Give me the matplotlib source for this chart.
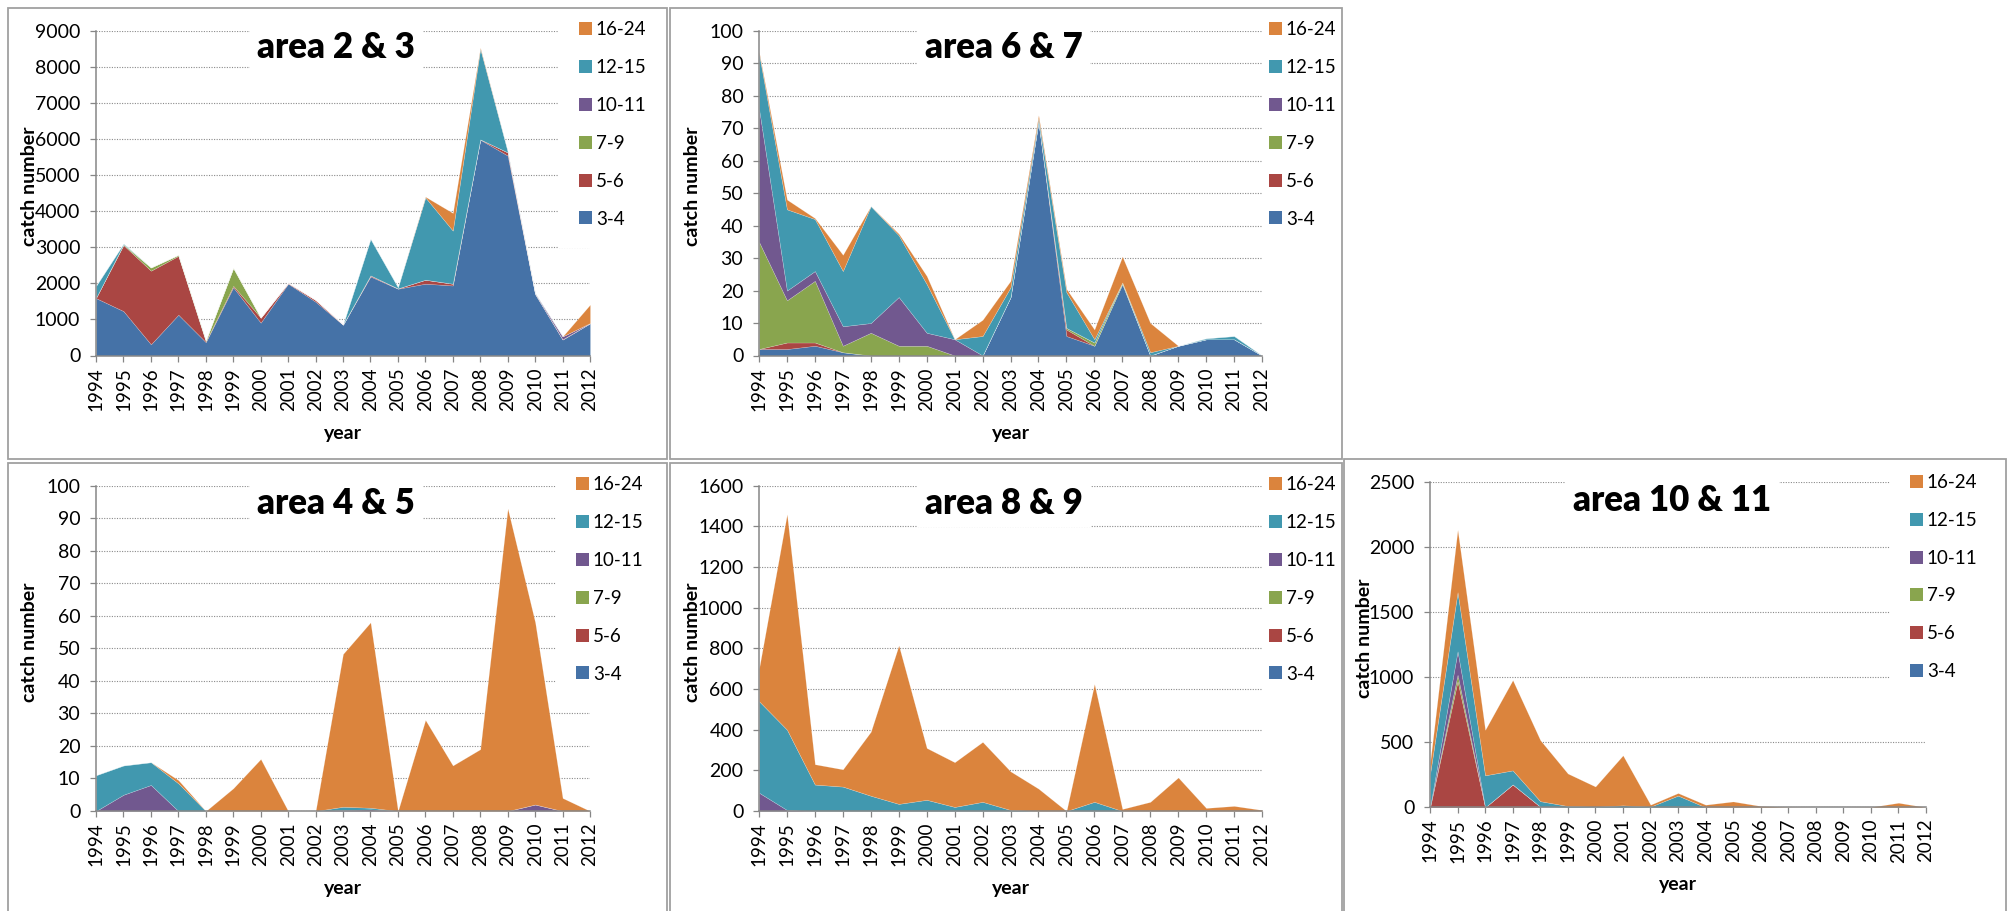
import numpy as np
import matplotlib
matplotlib.use('Agg')
import matplotlib.pyplot as plt
from matplotlib.patches import Rectangle

W, H = 2013, 911
DPI = 100

plt.rcParams['font.family'] = ['Lato', 'DejaVu Sans']

YEARS = [str(y) for y in range(1994, 2013)]
AGE_GROUPS = ['3-4', '5-6', '7-9', '10-11', '12-15', '16-24']
COLORS = ['#4572A7', '#AA4643', '#89A54E', '#71588F', '#4198AF', '#DB843D']

# catch numbers per age group, 1994..2012
# area 2 & 3
a23_g34 = [1590, 1230, 310, 1130, 370, 1890, 910, 1990, 1490, 850, 2190, 1850, 1990, 1940, 5980, 5540, 1700, 440, 890]
a23_g56 = [10, 1830, 2040, 1630, 20, 40, 140, 20, 50, 10, 30, 10, 110, 50, 10, 90, 10, 10, 5]
a23_g79 = [0, 20, 90, 30, 30, 500, 0, 0, 0, 0, 0, 0, 0, 0, 0, 0, 0, 0, 0]
a23_g1011 = [0, 0, 0, 0, 0, 0, 0, 0, 0, 0, 0, 0, 0, 0, 0, 0, 10, 80, 5]
a23_g1215 = [330, 20, 0, 0, 0, 0, 0, 0, 0, 0, 1010, 30, 2280, 1470, 2510, 20, 10, 0, 0]
a23_g1624 = [0, 0, 0, 0, 0, 0, 0, 0, 0, 0, 0, 0, 20, 490, 30, 0, 0, 0, 510]

# area 6 & 7
a67_g34 = [2, 2, 3, 1, 0, 0, 0, 0, 0, 18, 72, 6, 3, 22, 0, 3, 5, 5, 0]
a67_g56 = [0, 2, 1, 0, 0, 0, 0, 0, 0, 0, 0, 2, 0, 0, 0, 0, 0, 0, 0]
a67_g79 = [33, 13, 19, 2, 7, 3, 3, 0, 0, 0, 0, 0.5, 1, 0.5, 0, 0, 0, 0, 0]
a67_g1011 = [41, 3, 3, 6, 3, 15, 4, 5, 0, 0, 0, 0, 0, 0, 0, 0, 0, 0, 0]
a67_g1215 = [17, 25, 16, 17, 36, 19, 15, 0, 6, 3, 1, 11, 1, 0, 1, 0, 0.3, 1, 0]
a67_g1624 = [0.5, 3, 0.3, 5, 0, 0.5, 2.5, 0, 5, 2, 1, 1, 3, 8, 9, 0, 0, 0, 0]

# area 4 & 5
a45_g34 = [0] * 19
a45_g56 = [0] * 19
a45_g79 = [0] * 19
a45_g1011 = [0, 5, 8, 0, 0, 0, 0, 0, 0, 0.3, 0.5, 0, 0, 0, 0, 0, 2, 0, 0]
a45_g1215 = [11, 9, 7, 8.5, 0, 0, 0, 0, 0, 1, 0.5, 0, 0, 0, 0, 0, 0, 0, 0]
a45_g1624 = [0, 0, 0, 1, 0, 7, 16, 0, 0, 47, 57, 0, 28, 14, 19, 93, 56, 4, 0]

# area 8 & 9
a89_g34 = [0] * 19
a89_g56 = [0] * 19
a89_g79 = [0] * 19
a89_g1011 = [90, 5, 0, 0, 0, 0, 0, 0, 0, 0, 0, 0, 0, 0, 0, 0, 0, 0, 0]
a89_g1215 = [450, 395, 130, 120, 75, 35, 55, 20, 45, 5, 0, 0, 45, 0, 0, 0, 0, 0, 0]
a89_g1624 = [160, 1060, 100, 85, 315, 780, 255, 220, 295, 190, 110, 0, 580, 10, 45, 165, 15, 25, 5]

# area 10 & 11
a1011_g34 = [0] * 19
a1011_g56 = [0, 970, 0, 176, 5, 0, 0, 0, 0, 0, 0, 0, 0, 0, 0, 0, 0, 0, 0]
a1011_g79 = [0, 50, 0, 0, 0, 0, 0, 0, 0, 0, 0, 0, 0, 0, 0, 0, 0, 0, 0]
a1011_g1011 = [0, 180, 0, 0, 0, 0, 0, 0, 0, 0, 0, 0, 0, 0, 0, 0, 0, 0, 0]
a1011_g1215 = [255, 455, 246, 108, 42, 10, 5, 15, 5, 90, 0, 0, 0, 0, 0, 0, 0, 0, 0]
a1011_g1624 = [85, 480, 350, 695, 470, 250, 155, 385, 15, 20, 20, 45, 10, 2, 0, 0, 2, 35, 0]

# layout in pixels: plot box (x0, y0, x1, y1), legend swatch (left, top), legend pad,
# panel frame (x0, y0, x1, y1)
panels = [
    dict(title='area 2 & 3', ymax=9000, ystep=1000,
         data=[a23_g34, a23_g56, a23_g79, a23_g1011, a23_g1215, a23_g1624],
         plot=(96, 30.7, 590, 355.5), leg=(579, 21.7), pad=20, frame=(8, 8, 667, 459),
         tpos=(0.486, 0.947)),
    dict(title='area 6 & 7', ymax=100, ystep=10,
         data=[a67_g34, a67_g56, a67_g79, a67_g1011, a67_g1215, a67_g1624],
         plot=(759, 30.7, 1262, 355.5), leg=(1269, 21.7), pad=4, frame=(670, 8, 1342, 459),
         tpos=(0.487, 0.947)),
    dict(title='area 4 & 5', ymax=100, ystep=10,
         data=[a45_g34, a45_g56, a45_g79, a45_g1011, a45_g1215, a45_g1624],
         plot=(96, 485.7, 590, 811), leg=(576, 476.7), pad=20, frame=(8, 463, 667, 920),
         tpos=(0.486, 0.946)),
    dict(title='area 8 & 9', ymax=1600, ystep=200,
         data=[a89_g34, a89_g56, a89_g79, a89_g1011, a89_g1215, a89_g1624],
         plot=(759, 485.7, 1262, 811), leg=(1269, 476.7), pad=4, frame=(670, 463, 1342, 920),
         tpos=(0.487, 0.946)),
    dict(title='area 10 & 11', ymax=2500, ystep=500,
         data=[a1011_g34, a1011_g56, a1011_g79, a1011_g1011, a1011_g1215, a1011_g1624],
         plot=(1430, 482.3, 1926, 807.3), leg=(1910, 474.3), pad=20, frame=(1344, 459, 2006, 920),
         tpos=(0.488, 0.945)),
]

AXIS_GREY = '#868686'
LEG_FS = 13.5


def to_fig(x, y):
    return x / W, 1 - y / H


fig = plt.figure(figsize=(W / DPI, H / DPI), dpi=DPI)

for p in panels:
    x0, y0, x1, y1 = p['plot']
    ax = fig.add_axes([x0 / W, 1 - y1 / H, (x1 - x0) / W, (y1 - y0) / H])
    xs = np.arange(len(YEARS))
    polys = ax.stackplot(xs, *p['data'], colors=COLORS, edgecolor=(1, 1, 1, 0.3),
                         linewidth=0.35, joinstyle='round')

    ax.set_xlim(0, len(YEARS) - 1)
    ax.set_ylim(0, p['ymax'])
    ax.set_xticks(xs)
    ax.set_xticklabels(YEARS, rotation=90)
    ax.set_yticks(np.arange(0, p['ymax'] + 1, p['ystep']))
    ax.tick_params(axis='both', direction='out', color=AXIS_GREY, width=0.9, length=4.3)
    ax.tick_params(axis='y', pad=7, labelsize=14)
    ax.tick_params(axis='x', pad=4, labelsize=13.5)
    for s in ['top', 'right']:
        ax.spines[s].set_visible(False)
    for s in ['left', 'bottom']:
        ax.spines[s].set_color(AXIS_GREY)
        ax.spines[s].set_linewidth(1.1)
    ax.set_axisbelow(True)
    ax.grid(axis='y', linestyle=(0, (1, 1.3)), color='#8a8a8a', linewidth=0.8)

    w = x1 - x0
    hh = y1 - y0
    ax.set_ylabel('catch number', fontsize=14, fontweight='bold', va='center')
    ax.yaxis.set_label_coords(-66 / w, 0.52)
    ax.set_xlabel('year', fontsize=14, fontweight='bold', va='center')
    ax.xaxis.set_label_coords(0.5, -(433 - 355.5) / hh)

    ax.text(p['tpos'][0], p['tpos'][1], p['title'], transform=ax.transAxes,
            ha='center', va='center', fontsize=25, fontweight='heavy', zorder=6,
            bbox=dict(boxstyle='square,pad=0.22', fc='white', ec='none'))

    # legend, largest group on top
    fs_px = LEG_FS * DPI / 72
    row_h = 1.2 * fs_px
    lx, ly = p['leg']
    pad = p['pad']
    fx, fy = to_fig(lx - pad, ly + 11 - row_h / 2 - pad)
    leg = ax.legend(polys[::-1], AGE_GROUPS[::-1], loc='upper left',
                    bbox_to_anchor=(fx, fy), bbox_transform=fig.transFigure,
                    borderaxespad=0, borderpad=pad / fs_px, fontsize=LEG_FS,
                    frameon=True, fancybox=False, facecolor='white', edgecolor='none',
                    framealpha=1, handlelength=13 / fs_px, handleheight=13 / fs_px,
                    handletextpad=0.2, labelspacing=1.11)
    for h in leg.legend_handles:
        h.set_edgecolor('none')

# panel frames
for p in panels:
    fx0, fy0, fx1, fy1 = p['frame']
    fig.add_artist(Rectangle(to_fig(fx0, fy1), (fx1 - fx0) / W, (fy1 - fy0) / H,
                             transform=fig.transFigure, fill=False,
                             edgecolor='#a0a0a0', linewidth=1.3))

fig.savefig('out.png', dpi=DPI, facecolor='white')
